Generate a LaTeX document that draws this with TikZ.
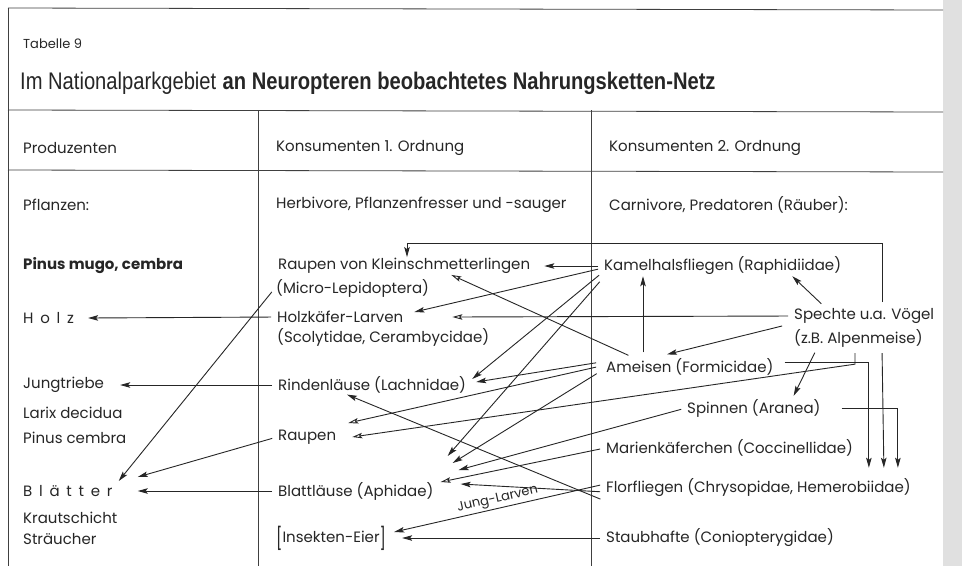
\documentclass[tikz,border=0pt]{standalone}
\usepackage{fontspec}
\setmainfont{Poppins}
\newfontfamily\titelfont[FakeStretch=0.84]{Liberation Sans}
\usetikzlibrary{arrows.meta}

\newcommand{\gesperrt}[1]{{\addfontfeatures{LetterSpace=45}#1}}
\newcommand{\klammer}[1]{\raisebox{-0.25em}{\scalebox{1}[1.45]{#1}}}

\tikzset{
  eintrag/.style={anchor=west, inner sep=1pt, text=black!85,
    font=\fontsize{15}{17}\selectfont},
  kopf/.style={eintrag},
  pfeil/.style={-{Stealth[length=10pt,width=5.5pt,inset=2pt]},
    line width=0.9pt, draw=black!85, shorten <=5pt},
  hohl/.style={pfeil, -{Stealth[open,length=10pt,width=5.5pt,inset=2pt]}},
  rahmen/.style={line width=0.8pt, draw=black!75}
}

\begin{document}
\begin{tikzpicture}[x=1pt, y=-1pt]

    % Seite und Rahmen
    \useasboundingbox (0,0) rectangle (962,566);
    \fill[white] (0,0) rectangle (962,566);
    \fill[black!12] (943,0) rectangle (962,566);
    \draw[rahmen] (8,8) -- (943,10);
    \draw[rahmen] (8,8) -- (8,566);
    \draw[rahmen] (8,110) -- (943,112);
    \draw[rahmen] (8,170) -- (943,172);
    \draw[rahmen] (258,110) -- (258,566);
    \draw[rahmen] (591,110) -- (591,566);

    % Kopf
    \node[eintrag, font=\fontsize{13}{15}\selectfont] (tabelle) at (22,44) {Tabelle 9};
    \node[eintrag, font=\fontsize{24}{28}\selectfont] (titel) at (19,83)
      {{\titelfont Im Nationalparkgebiet} {\titelfont\bfseries an Neuropteren beobachtetes Nahrungsketten-Netz}};
    \node[kopf] (produz) at (22,148) {Produzenten};
    \node[kopf] (konsEins) at (275,148) {Konsumenten 1. Ordnung};
    \node[kopf] (konsZwei) at (608,148) {Konsumenten 2. Ordnung};
    \node[kopf] (pflanzen) at (22,205) {Pflanzen:};
    \node[kopf] (herbivore) at (275,205) {Herbivore, Pflanzenfresser und -sauger};
    \node[kopf] (carnivore) at (608,205) {Carnivore, Predatoren (Räuber):};

    % Produzenten
    \node[eintrag, font=\fontsize{15}{17}\selectfont\bfseries] (pinus) at (22,266) {Pinus mugo, cembra};
    \node[eintrag] (holz) at (22,318) {\gesperrt{Holz}};
    \node[eintrag] (jungtriebe) at (22,385) {Jungtriebe};
    \node[eintrag, align=left, font=\fontsize{15}{25}\selectfont] (larix) at (22,425) {Larix decidua\\Pinus cembra};
    \node[eintrag] (blaetter) at (22,491) {\gesperrt{Blätter}};
    \node[eintrag, align=left, font=\fontsize{15}{21}\selectfont] (kraut) at (22,528) {Krautschicht\\Sträucher};

    % Konsumenten 1. Ordnung
    \node[eintrag] (raupenKlein) at (277,266) {Raupen von Kleinschmetterlingen};
    \node[eintrag] (micro) at (275,288) {(Micro-Lepidoptera)};
    \node[eintrag] (holzkaefer) at (276,317) {Holzkäfer-Larven};
    \node[eintrag] (scoly) at (276,337) {(Scolytidae, Cerambycidae)};
    \node[eintrag] (rinden) at (277,385) {Rindenläuse (Lachnidae)};
    \node[eintrag] (raupen) at (277,437) {Raupen};
    \node[eintrag] (blattlaeuse) at (277,491) {Blattläuse (Aphidae)};
    \node[eintrag] (eier) at (275,538) {\klammer{[}Insekten-Eier\klammer{]}};

    % Konsumenten 2. Ordnung
    \node[eintrag] (kamel) at (603,266) {Kamelhalsfliegen (Raphidiidae)};
    \node[eintrag] (spechte) at (793,316) {Spechte u.a. Vögel};
    \node[eintrag] (alpenmeise) at (793,338) {(z.B. Alpenmeise)};
    \node[eintrag] (ameisen) at (605,367) {Ameisen (Formicidae)};
    \node[eintrag] (spinnen) at (686,408) {Spinnen (Aranea)};
    \node[eintrag] (marien) at (605,448) {Marienkäferchen (Coccinellidae)};
    \node[eintrag] (florfliegen) at (605,488) {Florfliegen (Chrysopidae, Hemerobiidae)};
    \node[eintrag] (staubhafte) at (605,538) {Staubhafte (Coniopterygidae)};

    % zu den Pflanzen
    \draw[pfeil] (holzkaefer.west) -- ([xshift=13pt]holz.east);
    \draw[pfeil] (rinden.west) -- ([xshift=15pt]jungtriebe.east);
    \draw[pfeil] (raupen.west) -- ([shift={(24,-14)}]blaetter.east);
    \draw[pfeil] (blattlaeuse.west) -- ([xshift=24pt]blaetter.east);
    \draw[pfeil] (micro.west) -- ([shift={(5,-10)}]blaetter.east);

    % Kamelhalsfliegen
    \draw[pfeil] (kamel.west) -- ([xshift=13pt]raupenKlein.east);
    \draw[pfeil] ([shift={(0,2)}]kamel.west) -- ([shift={(10,-5)}]holzkaefer.east);
    \draw[pfeil] ([shift={(0,6)}]kamel.west) -- ([shift={(5,-6)}]rinden.east);
    \draw[pfeil] ([shift={(0,12)}]kamel.west) -- ([shift={(13,-35)}]blattlaeuse.east);

    % Ameisen
    \draw[pfeil] ([shift={(-4,-5)}]ameisen.west) -- ([shift={(9,-3)}]rinden.east);
    \draw[hohl] ([shift={(-4,-1)}]ameisen.west) -- ([shift={(11,-14)}]raupen.east);
    \draw[pfeil] ([shift={(-4,4)}]ameisen.west) -- ([shift={(18,-28)}]blattlaeuse.east);
    \draw[pfeil] ([xshift=38pt]ameisen.north west) -- ([xshift=40pt]kamel.south west);
    \draw[hohl] ([xshift=28pt]ameisen.north west) -- ([xshift=-80pt]raupenKlein.south east);
    \draw[pfeil] ([shift={(5,-5)}]ameisen.east) -| ([shift={(-43,-10)}]florfliegen.north east);

    % Spechte
    \draw[hohl] (spechte.west) -- ([xshift=48pt]holzkaefer.east);
    \draw[pfeil] ([xshift=-6pt]spechte.south west) -- ([shift={(62,-3)}]ameisen.north west);
    \draw[pfeil] ([xshift=32pt]spechte.north west) -- ([xshift=-50pt]kamel.south east);
    \draw[pfeil] ([xshift=24pt]alpenmeise.south west) -- ([shift={(-28,-2)}]spinnen.north east);
    \draw[hohl] ([xshift=62pt]alpenmeise.south west) -- ++(0,16) -- ([xshift=15pt]raupen.east);
    \draw[pfeil] ([xshift=89pt]spechte.north west) -- ++(0,-64) -| ([xshift=130pt]raupenKlein.north west);
    \draw[pfeil] ([xshift=89pt]alpenmeise.south west) -- ([shift={(-28,-10)}]florfliegen.north east);

    % Spinnen, Marienkaeferchen, Florfliegen, Staubhafte
    \draw[pfeil] ([xshift=15pt]spinnen.east) -| ([shift={(-14,-10)}]florfliegen.north east);
    \draw[pfeil] (spinnen.west) -- ([shift={(24,-21)}]blattlaeuse.east);
    \draw[hohl] (marien.west) -- ([shift={(6,-9)}]blattlaeuse.east);
    \draw[pfeil] ([yshift=-4pt]florfliegen.west) -- ([shift={(26,-7)}]blattlaeuse.east);
    \draw[pfeil] ([yshift=-13pt]florfliegen.west) -- ([xshift=70pt]rinden.south west);
    \draw[pfeil] ([yshift=4pt]florfliegen.west) -- ([shift={(7,-6)}]eier.east)
      node[midway, above, sloped, inner sep=2pt, font=\fontsize{13}{15}\selectfont, text=black!85] (jungLarven) {Jung-Larven};
    \draw[pfeil] (staubhafte.west) -- ([xshift=15pt]eier.east);

\end{tikzpicture}
\end{document}
